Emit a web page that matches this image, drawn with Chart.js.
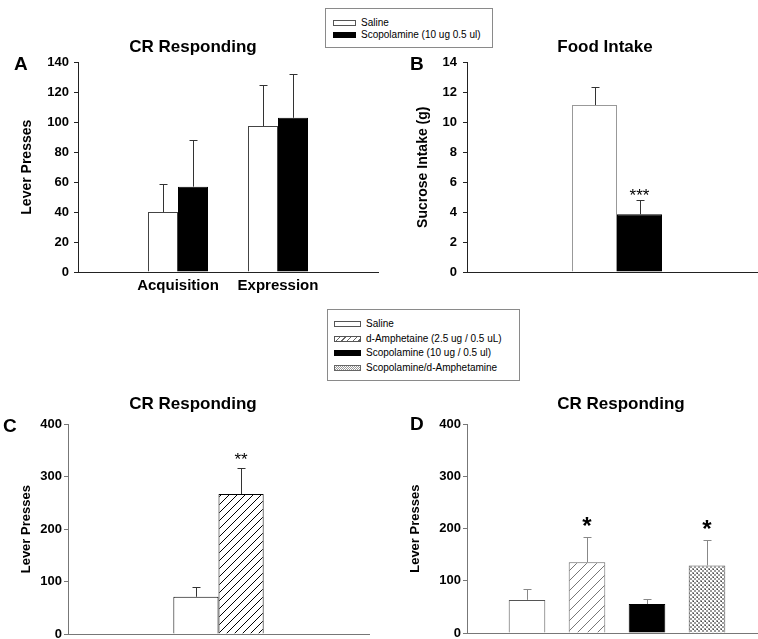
<!DOCTYPE html>
<html>
<head>
<meta charset="utf-8">
<script src="https://cdn.jsdelivr.net/npm/chart.js@4/dist/chart.umd.min.js"></script>
<style>
html,body{margin:0;padding:0;background:#fff;}
body{width:758px;height:639px;overflow:hidden;position:relative;font-family:"Liberation Sans",Arial,sans-serif;}
canvas{position:absolute;}
.letter{position:absolute;font:bold 19px "Liberation Sans",Arial,sans-serif;line-height:19px;color:#000;}
.legend{position:absolute;box-sizing:border-box;border:1px solid #8a8a8a;background:#fff;z-index:5;}
.lrow{position:absolute;font:10px "Liberation Sans",Arial,sans-serif;line-height:12px;color:#000;white-space:nowrap;}
.sw{position:absolute;box-sizing:border-box;height:6px;}
</style>
</head>
<body>
<canvas id="cA" width="386" height="280" style="left:0px;top:30px"></canvas>
<canvas id="cB" width="430" height="280" style="left:390px;top:30px"></canvas>
<canvas id="cC" width="386" height="270" style="left:0px;top:380px"></canvas>
<canvas id="cD" width="442" height="270" style="left:400px;top:380px"></canvas>
<div class="letter" style="left:14px;top:54px">A</div>
<div class="letter" style="left:410px;top:54px">B</div>
<div class="letter" style="left:3px;top:416px">C</div>
<div class="letter" style="left:410px;top:414px">D</div>
<div id="legTop" class="legend" style="left:325px;top:8px;width:168px;height:40px"></div>
<div id="legBot" class="legend" style="left:327px;top:309px;width:193px;height:72px"></div>
<script>
// ---------- DATA ----------
// Panel A: CR Responding
const catsA = ['Acquisition', 'Expression'];
const salineA = [40, 97.5];
const salineErrA = [19, 27.5];
const scopA = [57, 103];
const scopErrA = [31, 29];
const ticksA = [0, 20, 40, 60, 80, 100, 120, 140];

// Panel B: Food Intake
const catsB = [''];
const salineB = [11.15];
const salineErrB = [1.2];
const scopB = [3.85];
const scopErrB = [0.95];
const sigB = ['***'];
const ticksB = [0, 2, 4, 6, 8, 10, 12, 14];

// Panel C: CR Responding
const catsC = [''];
const salineC = [71];
const salineErrC = [19];
const amphC = [267];
const amphErrC = [49];
const sigC = ['**'];
const ticksC = [0, 100, 200, 300, 400];

// Panel D: CR Responding
const groupsD = ['Saline', 'd-Amphetaine', 'Scopolamine', 'Scopolamine/d-Amphetamine'];
const valuesD = [63.5, 135.5, 55.5, 129.5];
const errD = [21.5, 48, 9.5, 48.5];
const sigD = ['', '*', '', '*'];
const ticksD = [0, 100, 200, 300, 400];

// Legends
const legendTop = ['Saline', 'Scopolamine (10 ug 0.5 ul)'];
const legendBottom = ['Saline', 'd-Amphetaine (2.5 ug / 0.5 uL)', 'Scopolamine (10 ug / 0.5 ul)', 'Scopolamine/d-Amphetamine'];

// Titles
const titles = ['CR Responding', 'Food Intake', 'CR Responding', 'CR Responding'];
const yTitles = ['Lever Presses', 'Sucrose Intake (g)', 'Lever Presses', 'Lever Presses'];

// ---------- HELPERS ----------
const FONT = '"Liberation Sans", Arial, sans-serif';
const pad = a => [null, ...a, null];

function hatchPattern(size, color, lw) {
  const c = document.createElement('canvas');
  c.width = size; c.height = size;
  const g = c.getContext('2d');
  g.fillStyle = '#fff'; g.fillRect(0, 0, size, size);
  g.strokeStyle = color; g.lineWidth = lw;
  g.beginPath();
  g.moveTo(-1, size + 1); g.lineTo(size + 1, -1);
  g.moveTo(-1, 1); g.lineTo(1, -1);
  g.moveTo(size - 1, size + 1); g.lineTo(size + 1, size - 1);
  g.stroke();
  return g.createPattern(c, 'repeat');
}
function checkerPattern() {
  const c = document.createElement('canvas');
  c.width = 4; c.height = 4;
  const g = c.getContext('2d');
  g.fillStyle = '#fff'; g.fillRect(0, 0, 4, 4);
  g.fillStyle = '#9a9a9a';
  g.fillRect(0, 0, 2, 2); g.fillRect(2, 2, 2, 2);
  g.fillStyle = '#444';
  g.fillRect(1, 1, 1, 1);
  return g.createPattern(c, 'repeat');
}

const errorBars = {
  id: 'errorBars',
  afterDatasetsDraw(chart) {
    const ctx = chart.ctx;
    const ys = chart.scales.y;
    chart.data.datasets.forEach((ds, i) => {
      if (!ds.errors) return;
      const meta = chart.getDatasetMeta(i);
      meta.data.forEach((bar, j) => {
        const v = ds.data[j], e = ds.errors[j];
        if (v == null || e == null) return;
        const x = Math.round(bar.x) + 0.5;
        const yB = ys.getPixelForValue(v);
        const yT = Math.round(ys.getPixelForValue(v + e)) + 0.5;
        ctx.save();
        ctx.strokeStyle = ds.errorColor || '#333';
        ctx.lineWidth = 1;
        ctx.beginPath();
        ctx.moveTo(x, yB); ctx.lineTo(x, yT);
        ctx.moveTo(x - 4, yT); ctx.lineTo(x + 4, yT);
        ctx.stroke();
        if (ds.sig && ds.sig[j]) {
          ctx.fillStyle = '#000';
          ctx.font = ds.sigFont;
          ctx.textAlign = 'center';
          ctx.textBaseline = 'alphabetic';
          ctx.fillText(ds.sig[j], bar.x, yT - ds.sigOffset);
        }
        ctx.restore();
      });
    });
  }
};

function makePanel(id, p) {
  const cfg = {
    type: 'bar',
    data: { labels: p.labels, datasets: p.datasets },
    options: {
      responsive: false, animation: false, devicePixelRatio: 1, events: [],
      layout: { padding: 0 },
      plugins: {
        legend: { display: false }, tooltip: { enabled: false },
        title: {
          display: true, text: p.title, color: '#000',
          font: { family: FONT, size: 17, weight: 'bold' },
          padding: p.titlePad
        }
      },
      scales: {
        x: {
          type: 'category', offset: false,
          grid: { display: false, drawTicks: false },
          border: { display: true, color: p.axisColor, width: 1 },
          ticks: { display: true, color: '#000', padding: 5, autoSkip: false, maxRotation: 0,
                   callback: function (v, i) { return p.showX ? this.getLabelForValue(v) : ''; },
                   font: { family: FONT, size: 15, weight: 'bold' } },
          afterFit: s => { s.height = p.xHeight; }
        },
        y: {
          position: 'left',
          min: p.ticks[0], max: p.ticks[p.ticks.length - 1],
          ticks: { stepSize: p.ticks[1] - p.ticks[0], color: '#000', padding: p.tickPad,
                   font: { family: FONT, size: 13, weight: 'bold' } },
          grid: { display: true, drawOnChartArea: false, drawTicks: true, tickLength: 4, color: p.axisColor },
          border: { display: true, color: p.axisColor, width: 1 },
          title: { display: true, text: p.yTitle, color: '#000',
                   font: { family: FONT, size: p.yTitleSize, weight: 'bold' },
                   padding: { top: p.yTitlePad, bottom: 0 } },
          afterFit: s => { s.width = p.yWidth; }
        },
        yR: {
          position: 'right', display: true,
          grid: { display: false }, border: { display: false }, ticks: { display: false },
          afterFit: s => { s.width = p.rightWidth; }
        }
      }
    },
    plugins: [errorBars]
  };
  return new Chart(document.getElementById(id), cfg);
}

// ---------- PANEL A ----------
makePanel('cA', {
  labels: pad(catsA), title: titles[0], yTitle: yTitles[0], yTitleSize: 14, yTitlePad: 19,
  ticks: ticksA, titlePad: { top: 7, bottom: 5 }, axisColor: '#222', tickPad: 5,
  showX: true, xHeight: 38, yWidth: 78, rightWidth: 8,
  datasets: [
    { label: legendTop[0], data: pad(salineA), errors: pad(salineErrA), errorColor: '#333',
      backgroundColor: '#fff', borderColor: '#444', borderWidth: 1, yAxisID: 'y',
      categoryPercentage: 0.6, barPercentage: 1 },
    { label: legendTop[1], data: pad(scopA), errors: pad(scopErrA), errorColor: '#333',
      backgroundColor: '#000', borderColor: '#000', borderWidth: 1, yAxisID: 'y',
      categoryPercentage: 0.6, barPercentage: 1 }
  ]
});

// ---------- PANEL B ----------
makePanel('cB', {
  labels: pad(catsB), title: titles[1], yTitle: yTitles[1], yTitleSize: 14, yTitlePad: 25,
  ticks: ticksB, titlePad: { top: 7, bottom: 5 }, axisColor: '#222', tickPad: 6,
  showX: false, xHeight: 38, yWidth: 77, rightWidth: 53,
  datasets: [
    { label: legendTop[0], data: pad(salineB), errors: pad(salineErrB), errorColor: '#333',
      backgroundColor: '#fff', borderColor: '#999', borderWidth: 1, yAxisID: 'y',
      categoryPercentage: 0.6, barPercentage: 1 },
    { label: legendTop[1], data: pad(scopB), errors: pad(scopErrB), errorColor: '#333',
      sig: pad(sigB), sigFont: '17px ' + FONT, sigOffset: 0,
      backgroundColor: '#000', borderColor: '#000', borderWidth: 1, yAxisID: 'y',
      categoryPercentage: 0.6, barPercentage: 1 }
  ]
});

// ---------- PANEL C ----------
makePanel('cC', {
  labels: pad(catsC), title: titles[2], yTitle: yTitles[2], yTitleSize: 13, yTitlePad: 19,
  ticks: ticksC, titlePad: { top: 14, bottom: 10 }, axisColor: '#777', tickPad: 2,
  showX: false, xHeight: 16, yWidth: 68, rightWidth: 17,
  datasets: [
    { label: legendBottom[0], data: pad(salineC), errors: pad(salineErrC), errorColor: '#333',
      backgroundColor: '#fff', borderColor: '#000', borderWidth: 1, yAxisID: 'y',
      categoryPercentage: 0.6, barPercentage: 1 },
    { label: legendBottom[1], data: pad(amphC), errors: pad(amphErrC), errorColor: '#333',
      sig: pad(sigC), sigFont: '17px ' + FONT, sigOffset: 4,
      backgroundColor: hatchPattern(8, '#000', 1), borderColor: '#000', borderWidth: 1, yAxisID: 'y',
      categoryPercentage: 0.6, barPercentage: 1 }
  ]
});

// ---------- PANEL D ----------
makePanel('cD', {
  labels: pad(groupsD), title: titles[3], yTitle: yTitles[3], yTitleSize: 13, yTitlePad: 8,
  ticks: ticksD, titlePad: { top: 14, bottom: 10 }, axisColor: '#777', tickPad: 2,
  showX: false, xHeight: 17, yWidth: 67, rightWidth: 75,
  datasets: [
    { label: 'CR Responding', data: pad(valuesD), errors: pad(errD), errorColor: '#888',
      sig: pad(sigD), sigFont: 'bold 24px ' + FONT, sigOffset: 4,
      backgroundColor: ['#fff', '#fff', hatchPattern(10, '#777', 1), '#000', checkerPattern(), '#fff'],
      borderColor: ['#555', '#555', '#666', '#000', '#555', '#555'], borderWidth: 1, yAxisID: 'y',
      categoryPercentage: 0.61, barPercentage: 1 }
  ]
});

// ---------- HTML LEGENDS ----------
const swatchStyles = {
  white: 'background:#fff;border:1px solid #555;',
  black: 'background:#000;border:1px solid #000;',
  hatch: 'background:repeating-linear-gradient(135deg,#fff 0 3px,#666 3px 4px);border:1px solid #555;',
  check: 'background:repeating-conic-gradient(#999 0 25%,#fff 0 50%) 0 0/2px 2px;border:1px solid #666;'
};
function buildLegend(elId, items, styles, swLeft, swW, txtLeft, rowTop, rowGap) {
  const el = document.getElementById(elId);
  items.forEach((t, i) => {
    const cy = rowTop + i * rowGap;
    const sw = document.createElement('div');
    sw.className = 'sw';
    sw.style.cssText = 'left:' + swLeft + 'px;top:' + (cy - 3) + 'px;width:' + swW + 'px;' + swatchStyles[styles[i]];
    el.appendChild(sw);
    const tx = document.createElement('div');
    tx.className = 'lrow';
    tx.style.left = txtLeft + 'px';
    tx.style.top = (cy - 6) + 'px';
    tx.textContent = t;
    el.appendChild(tx);
  });
}
buildLegend('legTop', legendTop, ['white', 'black'], 7, 23, 35, 13.5, 12.5);
buildLegend('legBot', legendBottom, ['white', 'hatch', 'black', 'check'], 6, 27, 38, 14, 14.5);
</script>
</body>
</html>
